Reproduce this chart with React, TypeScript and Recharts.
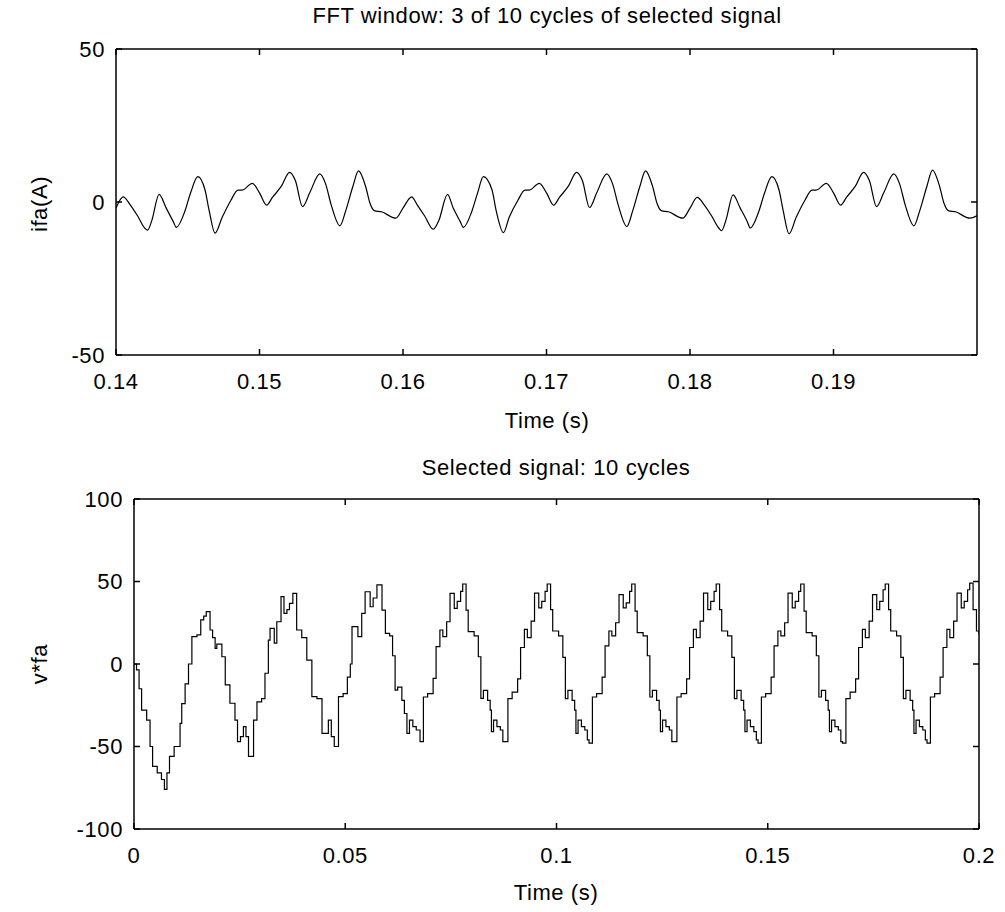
import React from 'react';
import { LineChart, Line, XAxis, YAxis } from 'recharts';

// tick positions
const fftTicksX = [0.14, 0.15, 0.16, 0.17, 0.18, 0.19];
const fftTicksY = [-50, 0, 50];
const fullTicksX = [0, 0.05, 0.1, 0.15, 0.2];
const fullTicksY = [-100, -50, 0, 50, 100];

// ifa(A) over the FFT window, [time, value]
const ifaSamples: [number, number][] = [
  [0.14, -2], [0.1405, 1.7], [0.141, -1], [0.1415, -4.5], [0.142, -8.5], [0.1422, -9.2],
  [0.1425, -6], [0.143, 2.5], [0.1435, -2], [0.144, -6.5], [0.1442, -8.3], [0.1448, -3],
  [0.1452, 3], [0.1457, 8.3], [0.1462, 4], [0.1465, -3], [0.1469, -10.2], [0.1474, -5],
  [0.148, 0.5], [0.1485, 3.9], [0.1488, 3.9], [0.1495, 6.1], [0.15, 3], [0.1505, -1],
  [0.1509, 1.5], [0.1515, 5], [0.1521, 9.7], [0.1525, 7], [0.153, -1.5], [0.1535, 3],
  [0.1542, 9.2], [0.1546, 6], [0.155, -1], [0.1556, -7.8], [0.156, -3], [0.1565, 5],
  [0.1569, 10.2], [0.1574, 5], [0.1577, -0.4], [0.158, -2.8], [0.1585, -3.2], [0.1595, -5.3],
  [0.16, -2], [0.1606, 1.7], [0.161, -1], [0.1615, -4.5], [0.1621, -8.9], [0.1625, -6],
  [0.1631, 2.5], [0.1635, -2], [0.164, -6.5], [0.1642, -8.3], [0.1648, -3], [0.1652, 3],
  [0.1656, 8.3], [0.1662, 4], [0.1665, -3], [0.167, -10], [0.1674, -5], [0.168, 0.5],
  [0.1685, 3.9], [0.1688, 3.9], [0.1695, 6.1], [0.17, 3], [0.1705, -1], [0.1709, 1.5],
  [0.1715, 5], [0.1721, 9.7], [0.1725, 7], [0.173, -1.8], [0.1735, 3], [0.1742, 9.2],
  [0.1746, 6], [0.175, -1], [0.1756, -8], [0.176, -3], [0.1765, 5], [0.1769, 10.2],
  [0.1774, 5], [0.1777, -0.4], [0.178, -2.8], [0.1785, -3.2], [0.1795, -5.3], [0.18, -2],
  [0.1805, 1.5], [0.181, -1], [0.1815, -4.5], [0.182, -8.5], [0.1822, -9.4], [0.1825, -6],
  [0.183, 2.3], [0.1835, -2], [0.184, -6.5], [0.1842, -8.5], [0.1848, -3], [0.1852, 3],
  [0.1857, 8.3], [0.1862, 4], [0.1865, -3], [0.1869, -10.4], [0.1874, -5], [0.188, 0.5],
  [0.1885, 3.9], [0.1888, 3.9], [0.1895, 6.1], [0.19, 3], [0.1905, -1], [0.1909, 1.5],
  [0.1915, 5], [0.1921, 9.7], [0.1925, 7], [0.193, -1.5], [0.1935, 3], [0.1942, 9.2],
  [0.1946, 6], [0.195, -1], [0.1956, -7.8], [0.196, -3], [0.1965, 5], [0.1969, 10.4],
  [0.1974, 5], [0.1977, -0.4], [0.198, -2.8], [0.1985, -3.2], [0.1995, -5.3], [0.2, -4.5],
];

// v*fa over the 10 selected cycles, [time, value]
const vfaSamples: [number, number][] = [
  [0, 0], [0.0006, -3.6], [0.0012, -15], [0.0018, -28], [0.003, -34], [0.0038, -50],
  [0.0044, -62], [0.0055, -66], [0.0065, -70], [0.0072, -76], [0.0078, -66], [0.0084, -56],
  [0.0095, -50], [0.0109, -36], [0.0113, -24], [0.0121, -12], [0.0129, 0], [0.0137, 16.6],
  [0.0149, 17.6], [0.0158, 26.7], [0.0165, 29], [0.0171, 31.7], [0.018, 20.6], [0.0186, 16],
  [0.0192, 9.5], [0.0196, 12], [0.0208, 4.4], [0.0216, -12.7], [0.0227, -23.8], [0.0239, -34],
  [0.0245, -47], [0.0252, -44], [0.0259, -38], [0.0265, -44], [0.0271, -56], [0.0283, -34],
  [0.0291, -23], [0.0302, -21], [0.031, -5.6], [0.0318, 14.5], [0.0322, 21.6], [0.0332, 12.7],
  [0.0338, 25.6], [0.0348, 40.8], [0.0355, 30.7], [0.0362, 33], [0.0368, 36.8], [0.0376, 42.8],
  [0.0385, 20.6], [0.0397, 16], [0.0409, 2.4], [0.0421, -19.8], [0.0433, -21], [0.0445, -42],
  [0.046, -34], [0.0467, -44], [0.0474, -50],
  [0.0484, -19.8], [0.0495, -18], [0.0505, -8], [0.0512, 0], [0.0516, 22.6], [0.053, 16.6],
  [0.0539, 30.7], [0.0547, 43.8], [0.0559, 34.7], [0.0566, 40], [0.0575, 47.9], [0.0587, 32.7],
  [0.0595, 18.6], [0.0605, 17], [0.0612, 5], [0.0618, -15.8], [0.0624, -14], [0.0634, -22],
  [0.064, -30], [0.0646, -42], [0.0652, -34], [0.066, -38], [0.0668, -40], [0.0677, -47],
  [0.0685, -20], [0.0695, -18], [0.0708, -8.7], [0.0715, 10.5], [0.0724, 20.6], [0.0731, 16.6],
  [0.074, 25.6], [0.0748, 42.8], [0.0758, 33.7], [0.0765, 38], [0.0773, 44], [0.0778, 48.5],
  [0.0786, 32.7], [0.0791, 19.6], [0.0805, 17], [0.0815, 4.4], [0.0821, -20.8], [0.0827, -16],
  [0.0837, -22], [0.0843, -28], [0.0846, -41], [0.0851, -34], [0.0859, -38], [0.0867, -40],
  [0.0873, -47], [0.0877, -47],
  [0.0885, -21], [0.0895, -17], [0.0908, -9], [0.0915, 10], [0.0924, 21], [0.0931, 16],
  [0.094, 26], [0.0948, 43], [0.0958, 34], [0.0965, 38], [0.0973, 44], [0.0978, 48.5],
  [0.0986, 33], [0.0991, 20], [0.1005, 17], [0.1015, 4], [0.1021, -21], [0.1027, -16],
  [0.1037, -22], [0.1043, -28], [0.1046, -42], [0.1051, -34], [0.1059, -38], [0.1067, -40],
  [0.1073, -46], [0.1077, -48],
  [0.1085, -20], [0.1095, -18], [0.1108, -8], [0.1115, 11], [0.1124, 20], [0.1131, 17],
  [0.114, 25], [0.1148, 42], [0.1158, 34], [0.1165, 37], [0.1173, 44], [0.1178, 48.5],
  [0.1186, 32], [0.1191, 19], [0.1205, 17], [0.1215, 5], [0.1221, -20], [0.1227, -16],
  [0.1237, -22], [0.1243, -28], [0.1246, -41], [0.1251, -34], [0.1259, -38], [0.1267, -40],
  [0.1273, -47], [0.1277, -47],
  [0.1285, -20], [0.1295, -18], [0.1308, -9], [0.1315, 10], [0.1324, 21], [0.1331, 16],
  [0.134, 26], [0.1348, 43], [0.1358, 33], [0.1365, 38], [0.1373, 44], [0.1378, 48.5],
  [0.1386, 33], [0.1391, 20], [0.1405, 17], [0.1415, 4], [0.1421, -21], [0.1427, -16],
  [0.1437, -22], [0.1443, -28], [0.1446, -41], [0.1451, -34], [0.1459, -38], [0.1467, -41],
  [0.1473, -46], [0.1477, -48],
  [0.1485, -20], [0.1495, -18], [0.1508, -8], [0.1515, 11], [0.1524, 20], [0.1531, 17],
  [0.154, 25], [0.1548, 43], [0.1558, 34], [0.1565, 38], [0.1573, 44], [0.1578, 48.5],
  [0.1586, 32], [0.1591, 19], [0.1605, 17], [0.1615, 5], [0.1621, -20], [0.1627, -16],
  [0.1637, -22], [0.1643, -28], [0.1646, -41], [0.1651, -34], [0.1659, -38], [0.1667, -40],
  [0.1673, -47], [0.1677, -48],
  [0.1685, -21], [0.1695, -17], [0.1708, -9], [0.1715, 10], [0.1724, 21], [0.1731, 16],
  [0.174, 26], [0.1748, 42], [0.1758, 33], [0.1765, 38], [0.1773, 45], [0.1778, 48.5],
  [0.1786, 33], [0.1791, 20], [0.1805, 17], [0.1815, 4], [0.1821, -21], [0.1827, -16],
  [0.1837, -22], [0.1843, -28], [0.1846, -42], [0.1851, -34], [0.1859, -38], [0.1867, -40],
  [0.1873, -46], [0.1877, -48],
  [0.1885, -20], [0.1895, -18], [0.1908, -8], [0.1915, 10], [0.1924, 21], [0.1931, 16],
  [0.194, 26], [0.1948, 43], [0.1958, 34], [0.1965, 38], [0.1973, 45], [0.1978, 49],
  [0.1986, 33], [0.1994, 20], [0.2, 18],
];

const ifaData = ifaSamples.map(([t, v]) => ({ t, v }));
const vfaData = vfaSamples.map(([t, v]) => ({ t, v }));

const FONT = '"Liberation Sans", Arial, sans-serif';
const FS = 22;
const tickStyle = { fill: '#000', fontSize: FS, fontFamily: FONT, letterSpacing: 0.6 };
const axisLine = { stroke: '#000', strokeWidth: 1.5 };
const tickLine = { stroke: '#000', strokeWidth: 1.5 };
const blank = () => '';

const fmt = (v: number) => String(v);

const Text: React.FC<{ x: number; y: number; rotate?: boolean; children: React.ReactNode }> = ({ x, y, rotate, children }) => (
  <div
    style={{
      position: 'absolute',
      left: x,
      top: y,
      transform: `translate(-50%, -50%)${rotate ? ' rotate(-90deg)' : ''}`,
      fontFamily: FONT,
      fontSize: FS,
      letterSpacing: 0.6,
      lineHeight: 1,
      color: '#000',
      whiteSpace: 'nowrap',
    }}
  >
    {children}
  </div>
);

const Panel: React.FC<{
  data: { t: number; v: number }[];
  xDomain: [number, number];
  yDomain: [number, number];
  xTicks: number[];
  yTicks: number[];
  margin: { top: number; right: number; bottom: number; left: number };
  top: number;
  height: number;
  curve: 'monotone' | 'stepAfter';
}> = ({ data, xDomain, yDomain, xTicks, yTicks, margin, top, height, curve }) => (
  <div style={{ position: 'absolute', left: 0, top }}>
    <LineChart width={1005} height={height} data={data} margin={margin}>
      <XAxis
        xAxisId="b" dataKey="t" type="number" domain={xDomain} ticks={xTicks} interval={0}
        allowDataOverflow height={45} tickSize={-6} tickMargin={24}
        tickFormatter={fmt} tick={tickStyle} axisLine={axisLine} tickLine={tickLine}
      />
      <XAxis
        xAxisId="t" orientation="top" dataKey="t" type="number" domain={xDomain} ticks={xTicks}
        interval={0} allowDataOverflow height={1} tickSize={-6} tickFormatter={blank}
        tick={tickStyle} axisLine={axisLine} tickLine={tickLine}
      />
      <YAxis
        yAxisId="l" type="number" domain={yDomain} ticks={yTicks} interval={0} allowDataOverflow
        width={60} tickSize={-6} tickMargin={17} tickFormatter={fmt} tick={tickStyle}
        axisLine={axisLine} tickLine={tickLine}
      />
      <YAxis
        yAxisId="r" orientation="right" type="number" domain={yDomain} ticks={yTicks} interval={0}
        allowDataOverflow width={1} tickSize={-6} tickFormatter={blank} tick={tickStyle}
        axisLine={axisLine} tickLine={tickLine}
      />
      <Line
        xAxisId="b" yAxisId="l" dataKey="v" type={curve} stroke="#000" strokeWidth={1.2}
        dot={false} activeDot={false} isAnimationActive={false}
      />
      <Line
        xAxisId="t" yAxisId="r" dataKey="v" type={curve} stroke="none" strokeWidth={0}
        dot={false} activeDot={false} isAnimationActive={false}
      />
    </LineChart>
  </div>
);

export default function App() {
  return (
    <div style={{ position: 'absolute', left: 0, top: 0, width: 1005, height: 912, background: '#fff', overflow: 'hidden' }}>
      <Panel
        data={ifaData} xDomain={[0.14, 0.2]} yDomain={[-50, 50]} xTicks={fftTicksX} yTicks={fftTicksY}
        margin={{ top: 48, right: 27, bottom: 0, left: 56 }} top={0} height={400} curve="monotone"
      />
      <Panel
        data={vfaData} xDomain={[0, 0.2]} yDomain={[-100, 100]} xTicks={fullTicksX} yTicks={fullTicksY}
        margin={{ top: 48, right: 25, bottom: 26, left: 74 }} top={450} height={450} curve="stepAfter"
      />
      <Text x={547} y={16}>FFT window: 3 of 10 cycles of selected signal</Text>
      <Text x={40} y={204} rotate>ifa(A)</Text>
      <Text x={547} y={421}>Time (s)</Text>
      <Text x={556} y={468}>Selected signal: 10 cycles</Text>
      <Text x={40} y={664} rotate>v*fa</Text>
      <Text x={556} y={893}>Time (s)</Text>
    </div>
  );
}
